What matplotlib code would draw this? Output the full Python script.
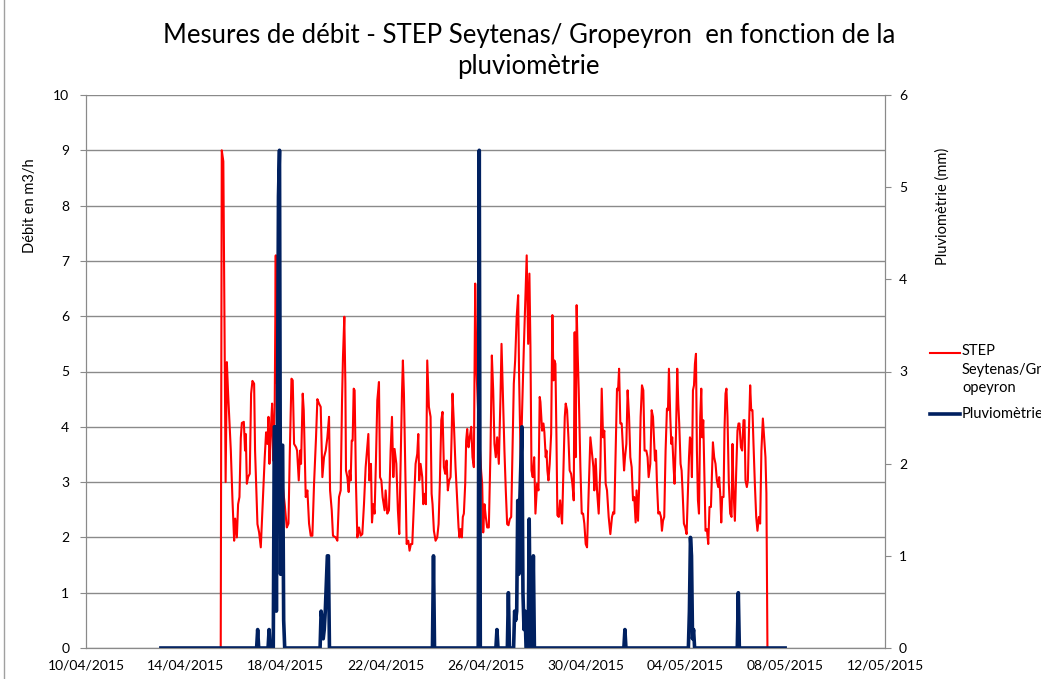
import matplotlib
matplotlib.use("Agg")
import matplotlib.pyplot as plt
import matplotlib.dates as mdates
from matplotlib.lines import Line2D
from matplotlib.patches import Rectangle
import numpy as np
import pandas as pd

plt.rcParams['font.family'] = ['Lato', 'DejaVu Sans']

# origine des heures : 10/04/2015 00:00
origine = pd.Timestamp('2015-04-10')

# debit STEP (heure depuis l'origine, m3/h)
debit_points = [
    (129.5, 0.0), (130.5, 9.0), (132, 8.8), (134.2, 3.0), (135.4, 5.17), (136.6, 4.6), (139.2, 3.57),
    (140.8, 2.67), (142.4, 1.94), (143.4, 2.34), (145, 2.0), (146.2, 2.6), (147.5, 2.73), (148.8, 3.8),
    (149.8, 4.07), (151.7, 4.09), (152.9, 3.57), (153.6, 3.87), (154.6, 2.97), (155.8, 3.09), (157.4, 3.15),
    (158.7, 4.6), (160, 4.83), (161.6, 4.78), (162.5, 3.57), (164.8, 2.24), (166.4, 2.09), (168, 1.82),
    (169.6, 2.49), (171.8, 3.45), (173.1, 3.9), (174.4, 3.69), (175.4, 4.18), (176.3, 3.33), (177.6, 3.93),
    (178.9, 4.42), (179.8, 3.39), (181.4, 4.4), (182.4, 7.1), (183, 4.8), (184, 7.1), (185.6, 4.0),
    (188.7, 3.0), (191, 2.6), (193, 2.18), (194.6, 2.25), (195.8, 3.45), (197.5, 4.87), (198.7, 4.84),
    (200, 3.69), (201.9, 3.63), (202.9, 3.57), (204.5, 3.03), (205.8, 3.57), (206.7, 3.33), (208.3, 4.6),
    (209.3, 4.3), (211.2, 2.73), (212.8, 2.85), (214.4, 2.25), (216, 2.03), (217.6, 2.03), (219.2, 2.97),
    (221.1, 3.81), (222.4, 4.5), (224, 4.42),
    (225.6, 4.36), (227.2, 3.09), (228.8, 3.45), (230.4, 3.57), (232, 3.81), (233.6, 4.18), (234.6, 2.85),
    (236.2, 2.49), (237.4, 2.03), (240, 2.0), (241.6, 1.94), (243.2, 2.73), (244.8, 2.85), (246.1, 4.48),
    (247, 5.26), (248.3, 5.99), (249.3, 4.78), (249.9, 3.21), (251.2, 3.09), (252.5, 2.82), (253.4, 3.21),
    (254.4, 3.03), (255.4, 3.75), (256.3, 3.75), (257.3, 4.69), (258.2, 4.66), (259.5, 2.97), (260.8, 2.0),
    (262.4, 2.18), (264, 2.03), (265.6, 2.06), (267.2, 2.6), (268.8, 3.27), (271.4, 3.87), (272.3, 3.03),
    (273.9, 3.33), (274.9, 2.27), (276.2, 2.6), (277.4, 2.43), (278.7, 3.39), (280, 4.48), (281.6, 4.81),
    (282.6, 3.09), (283.9, 3.03), (285.1, 2.73), (287, 2.49), (288, 2.85), (289.6, 2.43), (291.2, 2.49),
    (292.8, 3.57), (294.1, 4.18), (295.4, 3.09), (296.6, 3.6), (298.3, 3.33), (299.8, 2.49), (301.1, 2.06),
    (302.4, 3.33), (303.7, 4.6), (304.6, 5.2), (305.6, 4.6), (306.9, 3.27), (308.2, 1.88), (309.8, 1.94),
    (311, 1.76), (312.3, 1.88), (313.6, 1.88), (315.2, 2.6), (316.8, 3.33), (318.4, 3.51), (319.4, 3.87),
    (320.3, 3.03), (321.6, 3.33), (323.2, 3.09), (324.2, 2.6), (325.8, 2.79), (326.7, 2.6), (328, 5.2),
    (329.6, 4.36), (331.2, 4.18),
    (332.2, 2.79), (333.1, 2.6), (334.4, 2.12), (336, 1.94), (337.6, 2.0), (338.9, 2.24), (340.1, 2.97),
    (341.5, 4.12), (342.7, 4.27), (344, 3.27), (345.3, 3.15), (346.6, 3.39), (347.8, 2.85), (349.1, 3.03),
    (350.4, 3.09), (351.4, 3.81), (352.3, 4.6), (353.6, 4.06), (355.2, 3.27), (356.8, 2.67), (358.1, 2.18),
    (359, 2.0), (360, 2.15), (361.3, 2.0), (362.2, 2.37), (363.2, 2.43), (364.5, 2.97), (365.4, 3.75),
    (366.4, 3.96), (367.7, 3.63), (368.9, 3.81), (370.3, 4.0), (371.5, 3.45), (372.8, 3.27), (374.1, 6.59),
    (375.4, 5.0), (377.5, 4.0), (379.8, 3.2), (380.8, 2.97), (381.8, 2.09), (383, 2.6), (384.3, 2.37),
    (385.6, 2.18), (387.2, 2.18), (388.8, 3.57), (390.1, 5.29), (391.4, 4.66), (392.6, 3.69), (393.9, 3.45),
    (395.2, 3.81), (396.8, 3.33), (398.4, 4.54), (399.4, 5.5), (400.6, 4.66), (402.2, 3.57), (403.5, 2.85),
    (404.8, 2.24), (406.1, 2.22), (407.3, 2.33), (408.7, 2.37), (409.9, 3.57), (411.2, 4.78), (412.5, 5.2),
    (414, 6.0), (415.4, 6.38), (416.3, 4.9), (417.9, 3.3), (419.2, 4.3), (420.8, 5.4), (422.4, 6.4),
    (423.6, 7.1), (425, 5.5), (426.2, 6.77), (427.2, 5.45), (428.2, 3.21), (429.4, 3.09), (430.8, 3.45),
    (432, 2.43), (433.6, 2.97), (434.9, 2.85), (436.1, 4.54),
    (436.8, 4.45), (438.4, 3.93), (439.7, 4.06), (440.6, 3.9), (441.9, 3.45), (442.6, 3.57), (443.5, 3.21),
    (444.5, 3.03), (445.7, 3.33), (447.1, 3.87), (448.3, 6.02), (449.3, 4.84), (450.2, 5.2), (451.2, 5.14),
    (452.2, 3.81), (453.1, 2.4), (454.4, 2.37), (455.7, 2.67), (456.7, 2.43), (457.6, 2.25), (458.6, 2.97),
    (460.2, 4.18), (461.1, 4.42), (462.4, 4.3), (463.7, 3.81), (464.9, 3.21), (466.3, 3.15), (467.5, 2.97),
    (468.8, 2.67), (469.7, 5.71), (470.7, 3.45), (471.6, 6.2), (472.6, 5.32), (473.6, 4.66), (475.2, 3.27),
    (476.5, 2.43), (477.8, 2.43), (479, 2.25), (480.3, 1.88), (481.6, 1.82), (483.2, 2.85), (484.8, 3.81),
    (486.4, 3.51), (487.7, 3.27), (488.6, 2.85), (489.9, 3.42), (491.2, 2.85), (492.8, 2.43), (494.4, 3.27),
    (495.7, 4.69), (497, 3.81), (498.2, 3.93), (499.5, 2.97), (500.8, 2.85), (502.4, 2.37), (504, 2.06),
    (505.6, 2.37), (506.9, 2.46), (507.8, 2.43), (509.1, 3.57), (510.4, 4.69), (511.4, 4.66), (512.4, 5.05),
    (513.6, 4.06), (514.9, 4.06), (516.2, 3.57), (517.2, 3.21), (518.1, 3.45), (519.4, 3.69), (520.6, 4.66),
    (522, 4.18), (523.2, 3.45), (524.5, 3.27), (525.8, 2.67), (527, 2.73), (528.3, 2.27), (529.2, 2.85),
    (530.6, 2.3), (531.8, 2.97), (533.1, 4.18), (534.4, 4.75), (535.7, 4.66), (536.9, 3.57), (538.6, 3.57),
    (539.8, 3.45), (540.8, 3.09), (542.4, 3.33),
    (543.7, 4.3), (545, 4.18), (545.9, 3.81), (546.9, 3.39), (547.9, 3.57), (548.8, 2.97), (550.1, 2.43),
    (551.3, 2.46), (552.7, 2.37), (553.6, 2.12), (554.6, 2.3), (555.8, 2.37), (557.1, 3.57), (558.4, 4.33),
    (559.4, 4.3), (560.3, 5.05), (561.6, 4.18), (562.6, 3.69), (563.5, 3.81), (564.8, 3.27), (565.7, 2.97),
    (567.1, 3.87), (568.3, 5.05), (569.3, 4.42), (570.2, 4.06), (571.5, 3.33), (572.5, 3.21), (573.4, 2.85),
    (574.7, 2.25), (576, 2.18), (577.3, 2.06), (578.2, 2.6), (579.6, 3.45), (580.5, 3.81), (581.5, 3.75),
    (582.4, 3.09), (583.4, 4.66), (584.4, 4.75), (585.3, 5.14), (586.3, 5.32), (587.2, 3.57), (588.2, 2.67),
    (589.2, 2.43), (590.4, 4.18), (591.4, 4.69), (592.3, 3.81), (593.3, 4.12), (594.2, 3.33), (595.5, 2.12),
    (596.8, 2.15), (598.1, 1.88), (599.3, 2.55), (600.7, 2.55), (601.6, 3.09), (602.6, 3.72), (603.8, 3.45),
    (605.1, 3.33), (606.4, 3.03), (607.7, 2.91), (608.6, 3.09), (609.6, 2.79), (610.6, 2.27), (611.5, 2.73),
    (612.8, 2.73), (613.7, 3.93), (614.7, 4.6), (615.6, 4.69), (616.6, 4.18), (617.9, 2.97), (619.2, 2.43),
    (620.5, 2.37), (621.4, 3.69), (622.4, 2.85), (623.7, 2.3), (625, 3.21), (626.2, 3.93), (627.2, 4.06),
    (628.1, 4.06), (629.5, 3.63), (630.7, 3.57), (632, 4.12), (633, 4.12), (633.9, 3.03), (635.2, 2.91),
    (636.2, 3.03), (637.4, 4.06), (638.4, 4.75), (639.4, 4.3), (640.6, 4.3), (641.6, 3.69), (642.9, 2.97),
    (644.2, 2.37), (645.4, 2.12), (646.8, 2.37), (648, 2.25), (649.2, 3.57), (650.6, 4.15), (651.8, 3.81),
    (653.1, 3.45), (654, 2.8), (655, 0.0),
]

# pluviometrie horaire : heures avec pluie (depuis l'origine) et hauteur en mm
pluie_debut_h = 72
pluie_fin_h = 672
pluie_heures = [165, 176, 181, 182, 183, 184, 185, 186, 187, 188, 189, 190,
                226, 227, 228, 229, 230, 231, 232, 233, 334, 378, 395,
                406, 412, 413, 414, 415, 416, 417, 418, 419, 420, 421, 422, 426, 427, 430,
                518, 580, 581, 582, 583, 584, 627]
pluie_mm = [0.2, 0.2, 2.4, 2.4, 0.4, 2.4, 4.9, 5.4, 0.8, 2.2, 2.2, 0.3,
            0.4, 0.3, 0.1, 0.2, 0.4, 0.7, 1.0, 1.0, 1.0, 5.4, 0.2,
            0.6, 0.4, 0.3, 0.4, 1.6, 0.8, 1.6, 2.0, 2.4, 0.6, 0.2, 0.4, 1.4, 0.2, 1.0,
            0.2, 0.4, 1.2, 1.0, 0.1, 0.2, 0.6]

x_ticks = pd.date_range('2015-04-10', '2015-05-12', freq='4D')
titre = "Mesures de débit - STEP Seytenas/ Gropeyron  en fonction de la\npluviomètrie"
nom_debit = "STEP\nSeytenas/Gr\nopeyron"
nom_pluie = "Pluviomètrie"

h_debit, q_debit = zip(*debit_points)
t_debit = origine + pd.to_timedelta(np.array(h_debit), unit='h')

h_pluie = np.arange(pluie_debut_h, pluie_fin_h + 1)
pluie = np.zeros(len(h_pluie))
for hh, mm in zip(pluie_heures, pluie_mm):
    pluie[hh - pluie_debut_h] = mm
t_pluie = origine + pd.to_timedelta(h_pluie, unit='h')

W, H = 1041, 679
gris = '#8a8a8a'
rouge = '#FF0000'
bleu = '#002060'

fig = plt.figure(figsize=(W / 100, H / 100), dpi=100)
ax = fig.add_axes([86 / W, 31 / H, 799 / W, 553 / H])
ax.plot(t_debit, q_debit, color=rouge, lw=1.5, zorder=3)
ax.set_ylim(0, 10)
ax.set_yticks(range(0, 11))
ax.set_xlim(x_ticks[0], x_ticks[-1])
ax.set_xticks(x_ticks)
ax.xaxis.set_major_formatter(mdates.DateFormatter('%d/%m/%Y'))
ax.yaxis.grid(True, color=gris, lw=1.0)
ax.set_axisbelow(True)
ax.tick_params(axis='y', length=4, color=gris, pad=8, labelsize=10)
ax.tick_params(axis='x', length=0, pad=8, labelsize=10)

ax2 = ax.twinx()
ax2.plot(t_pluie, pluie, color=bleu, lw=2.6, solid_joinstyle='round')
ax2.set_ylim(0, 6)
ax2.set_yticks(range(0, 7))
ax2.tick_params(axis='y', length=4, color=gris, pad=6, labelsize=10)

for a in (ax, ax2):
    a.spines['top'].set_visible(False)
    for s in ('left', 'right', 'bottom'):
        a.spines[s].set_color(gris)

fig.text(0.508, 1 - 51 / H, titre, ha='center', va='center', fontsize=18.5, linespacing=1.3)
fig.text(30 / W, 1 - 206 / H, "Débit en m3/h", rotation=90, ha='center', va='center', fontsize=10.5)
fig.text(943 / W, 1 - 206 / H, "Pluviomètrie (mm)", rotation=90, ha='center', va='center', fontsize=10.5)

# legende
fig.add_artist(Line2D([930 / W, 960 / W], [1 - 353 / H] * 2, color=rouge, lw=1.5))
fig.add_artist(Line2D([930 / W, 960 / W], [1 - 414 / H] * 2, color=bleu, lw=2.6))
fig.text(962 / W, 1 - 344 / H, nom_debit, ha='left', va='top', fontsize=10.5, linespacing=1.42)
fig.text(962 / W, 1 - 414 / H, nom_pluie, ha='left', va='center', fontsize=10.5)

# bord de la zone de graphique
fig.add_artist(Rectangle((4 / W, -0.05), 1.2, 1.2, transform=fig.transFigure,
                         fill=False, edgecolor='#a0a0a0', lw=1.0))

fig.savefig('out.png', dpi=100)
